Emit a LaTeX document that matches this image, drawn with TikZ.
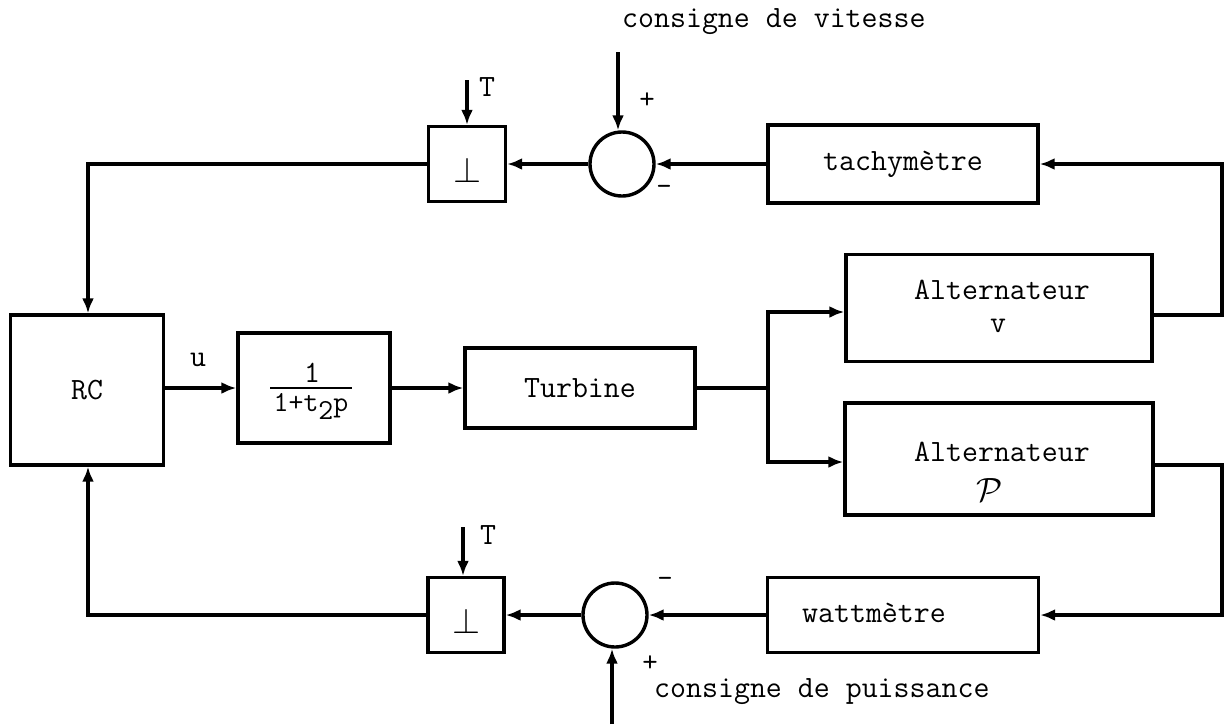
\documentclass[tikz,border=0pt]{standalone}
\usepackage{fontspec}
\usepackage{amsmath}
\usepackage{graphicx}
\usetikzlibrary{arrows.meta,calc}
\begin{document}
\begin{tikzpicture}[x=1pt,y=-1pt,
  blk/.style={draw,line width=3.4pt,inner sep=0pt,font=\ttfamily\fontsize{31}{36}\selectfont,align=center},
  sumc/.style={draw,circle,line width=3.4pt,minimum size=64pt,inner sep=0pt},
  wire/.style={line width=3.2pt},
  arr/.style={line width=3.2pt,-{Latex[length=15pt,width=12pt]}},
  lbl/.style={font=\ttfamily\fontsize{31}{36}\selectfont,inner sep=0pt},
  sgn/.style={font=\ttfamily\fontsize{30}{34}\selectfont,inner sep=0pt}]
\useasboundingbox (0,0) rectangle (1225,724);
% blocks
\node[blk,minimum width=153pt,minimum height=150pt] (rc) at (87,390) {RC};
\node[blk,minimum width=152pt,minimum height=110pt] (fr) at (314,388) {};
\node[blk,minimum width=230pt,minimum height=80pt] (tu) at (580,388) {Turbine};
\node[blk,minimum width=306pt,minimum height=107pt] (av) at (999,308) {};
\node[blk,minimum width=308pt,minimum height=112pt] (ap) at (999,459) {};
\node[blk,minimum width=270pt,minimum height=78pt] (ta) at (903,164) {tachym\`etre};
\node[blk,minimum width=271pt,minimum height=75pt] (wa) at (903,615) {};
\node[blk,minimum width=77pt,minimum height=75pt] (s1) at (467,164) {};
\node[blk,minimum width=76pt,minimum height=75pt] (s2) at (466,615) {};
\node[sumc] (c1) at (622,164) {};
\node[sumc] (c2) at (615,615) {};
% texts inside
\node[inner sep=0pt] (s1t) at (467,170) {\scalebox{3.6}{$\perp$}};
\node[inner sep=0pt] (s2t) at (466,621) {\scalebox{3.6}{$\perp$}};
\node[lbl] (fnum) at (312,373) {1};
\node[lbl,font=\ttfamily\fontsize{29}{34}\selectfont] (fden) at (311,406) {1+t\raisebox{-8pt}{2}p};
\draw[line width=2pt] (270,388) -- (352,388);
\node[lbl] (avt) at (1002,290) {Alternateur};
\node[lbl] (avv) at (998,326) {v};
\node[lbl] (apt) at (1002,452) {Alternateur};
\node[inner sep=0pt] (app) at (990,490) {\scalebox{1.35}{\fontsize{24}{28}\selectfont$\mathcal{P}$}};
\node[lbl] (wat) at (874,613) {wattm\`etre};
\node[lbl] (ulab) at (198,360) {u};
\node[lbl,anchor=west] (cv) at (622,22) {consigne de vitesse};
\node[lbl,anchor=west] (cp) at (654,692) {consigne de puissance};
\node[lbl] (t1) at (487,87) {T};
\node[lbl] (t2) at (488,535) {T};
\node[sgn] (p1) at (647,101) {+};
\node[sgn] (m1) at (664,190) {-};
\node[sgn] (m2) at (665,582) {-};
\node[sgn] (p2) at (650,664) {+};
% coordinates
\coordinate (cvin) at (618,52);
\coordinate (cpin) at (612,724);
\coordinate (t1in) at (467,80);
\coordinate (t2in) at (463,527);
\coordinate (sp) at (768,388);
\coordinate (spu) at (768,312);
\coordinate (spd) at (768,462);
\coordinate (rv) at (1222,315);
\coordinate (rvt) at (1222,164);
\coordinate (rp) at (1222,465);
\coordinate (rpb) at (1222,615);
\coordinate (lt) at (88,164);
\coordinate (lb) at (88,615);
% connectors
\draw[arr] (rc.east |- 0,388) -- (fr.west |- 0,388);
\draw[arr] (fr.east |- 0,388) -- (tu.west |- 0,388);
\draw[wire] (tu.east |- 0,388) -- (sp);
\draw[arr] (spd) |- (spu) -- (av.west |- spu);
\draw[arr] (sp) -- (spd) -- (ap.west |- spd);
\draw[arr] (av.east |- rv) -- (rv) -- (rvt) -- (ta.east);
\draw[arr] (ap.east |- rp) -- (rp) -- (rpb) -- (wa.east);
\draw[arr] (ta.west) -- (c1.east);
\draw[arr] (c1.west) -- (s1.east);
\draw[arr] (s1.west) -- (lt) -- (rc.north -| lt);
\draw[arr] (wa.west) -- (c2.east);
\draw[arr] (c2.west) -- (s2.east);
\draw[arr] (s2.west) -- (lb) -- (rc.south -| lb);
\draw[arr] (cvin) -- (c1.north -| cvin);
\draw[arr] (cpin) -- (c2.south -| cpin);
\draw[arr] (t1in) -- (s1.north -| t1in);
\draw[arr] (t2in) -- (s2.north -| t2in);
\end{tikzpicture}
\end{document}
